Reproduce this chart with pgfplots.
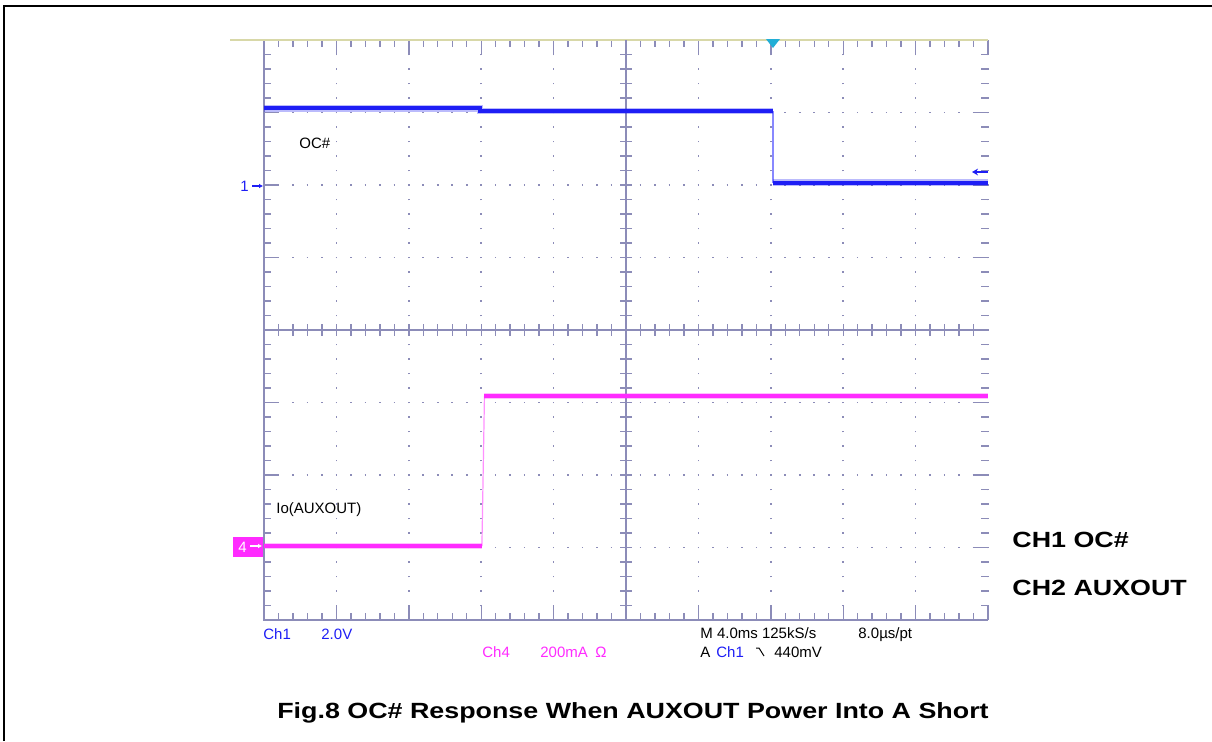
\documentclass[border=0pt]{standalone}
\usepackage{pgfplots}
\pgfplotsset{compat=1.18}
\usepackage{fontspec}
\setmainfont{Liberation Sans}
\usetikzlibrary{arrows.meta}
\definecolor{gridc}{HTML}{8C8CB8}
\definecolor{topc}{HTML}{D8D8A8}
\definecolor{chone}{HTML}{1E1EF5}
\definecolor{chonelt}{HTML}{8888FF}
\definecolor{chfour}{HTML}{FF2BFF}
\definecolor{chfourlt}{HTML}{FF90FF}
\definecolor{trigc}{HTML}{22AED6}
\newcommand\scp{\fontsize{7.5}{9}\selectfont}
\newcommand\bigb{\fontsize{11}{13}\selectfont\bfseries}
\begin{document}
\begin{tikzpicture}
\useasboundingbox (0,0) rectangle (606pt,-370.5pt);
\pgfplotsset{scopeaxis/.style={at={(132pt,-310pt)}, anchor=south west,
  width=362pt, height=290pt, scale only axis,
  xmin=-20, xmax=20, ymin=-4, ymax=4, clip=false}}
% --- graticule
\begin{axis}[scopeaxis,
  xtick={-20,-16,...,20}, ytick={-4,-3,...,4},
  minor x tick num=4, minor y tick num=4,
  xticklabels={}, yticklabels={},
  tick align=inside,
  major tick length=7.5pt, minor tick length=3.5pt,
  every tick/.style={draw=gridc, line width=0.7pt},
  axis line style={draw=none},
  xmajorgrids, ymajorgrids,
  x grid style={draw=gridc, line width=0.8pt, dash pattern=on 0.8pt off 6.45pt, dash phase=0.4pt},
  y grid style={draw=gridc, line width=0.8pt, dash pattern=on 0.8pt off 6.44pt, dash phase=0.4pt},
]
\end{axis}
\begin{scope}[x=0.5pt,y=-0.5pt]
% outer frame
\draw[black, line width=1pt] (4.3,741) -- (4.3,5.5) -- (1212,5.5);
% borders
\draw[gridc, line width=1pt] (264,40) -- (264,620) -- (988,620);
\draw[topc, line width=1pt] (230,40) -- (988,40);
% centre cross
\draw[gridc, line width=0.8pt] (626,40) -- (626,620);
\draw[gridc, line width=0.8pt] (264,330) -- (988,330);
\foreach \i in {1,...,49} \draw[gridc, line width=0.7pt] ({264+\i*14.48},324) -- ({264+\i*14.48},336);
\foreach \i in {1,...,39} \draw[gridc, line width=0.7pt] (620,{40+\i*14.5}) -- (632,{40+\i*14.5});
% trigger marker
\fill[trigc] (766,39) -- (780,39) -- (773,48) -- cycle;
% channel 1 ground marker
\node[text=chone, anchor=base east, inner sep=0, font=\scp] at (249,191) {1};
\draw[chone, line width=0.6pt, -{Latex[length=2pt,width=2.4pt]}] (252,186) -- (263,186);
% channel 4 ground marker
\fill[chfour] (233,537) rectangle (263,557);
\node[text=white, anchor=base west, inner sep=0, font=\scp] at (238,552) {4};
\draw[white, line width=0.6pt, -{Latex[length=2pt,width=2.4pt]}] (250,546) -- (262,546);
% right reference arrow
\draw[chone, line width=0.8pt, -{Stealth[length=3pt,width=3.4pt]}] (988,172) -- (972,172);
% in-screen labels
\node[anchor=base west, inner sep=0, font=\scp] at (299,148) {OC\#};
\node[anchor=base west, inner sep=0, font=\scp] at (276,513) {Io(AUXOUT)};
\node[anchor=base west, inner sep=0, font=\scp, text=chone] at (263,639) {Ch1};
\node[anchor=base west, inner sep=0, font=\scp, text=chone] at (321,639) {2.0V};
\node[anchor=base west, inner sep=0, font=\scp, text=chfour] at (482,657) {Ch4};
\node[anchor=base west, inner sep=0, font=\scp, text=chfour] at (540,657) {200mA};
\node[anchor=base west, inner sep=0, font=\scp, text=chfour] at (595,657) {Ω};
\node[anchor=base west, inner sep=0, font=\scp] at (700,638) {M 4.0ms 125kS/s};
\node[anchor=base west, inner sep=0, font=\scp] at (858,638) {8.0µs/pt};
\node[anchor=base west, inner sep=0, font=\scp] at (700,657) {A};
\node[anchor=base west, inner sep=0, font=\scp, text=chone] at (716,657) {Ch1};
\draw[black, line width=0.5pt] (756,648) -- (759,648) -- (764,656);
\node[anchor=base west, inner sep=0, font=\scp] at (774,657) {440mV};
% right-hand legend and caption
\node[anchor=base west, inner sep=0, font=\bigb] at (1012,547) {\scalebox{1.22}[1]{CH1 OC\#}};
\node[anchor=base west, inner sep=0, font=\bigb] at (1012,595) {\scalebox{1.22}[1]{CH2 AUXOUT}};
\node[anchor=base, inner sep=0, font=\bigb] at (633,718) {\scalebox{1.22}[1]{Fig.8 OC\# Response When AUXOUT Power Into A Short}};
\end{scope}
% --- traces
\begin{axis}[scopeaxis, hide axis]
\addplot[chonelt, line width=0.6pt] coordinates {(8.12,3.02) (8.12,2.03)};
\addplot[chfourlt, line width=0.6pt] coordinates {(-7.96,-2.98) (-7.82,-0.91)};
\addplot[chone, line width=3.4pt, opacity=0.3] coordinates {(-20,3.06) (-8.07,3.06) (-8.07,3.02) (8.12,3.02)};
\addplot[chone, line width=3.4pt, opacity=0.3] coordinates {(8.12,2.03) (20,2.03)};
\addplot[chfour, line width=3.4pt, opacity=0.3] coordinates {(-20,-2.98) (-7.96,-2.98)};
\addplot[chfour, line width=3.4pt, opacity=0.3] coordinates {(-7.82,-0.91) (20,-0.91)};
\addplot[chone, line width=2pt] coordinates {(-20,3.06) (-8.07,3.06) (-8.07,3.02) (8.12,3.02)};
\addplot[chone, line width=2pt] coordinates {(8.12,2.03) (20,2.03)};
\addplot[chfour, line width=2pt] coordinates {(-20,-2.98) (-7.96,-2.98)};
\addplot[chfour, line width=2pt] coordinates {(-7.82,-0.91) (20,-0.91)};
\end{axis}
\end{tikzpicture}
\end{document}
